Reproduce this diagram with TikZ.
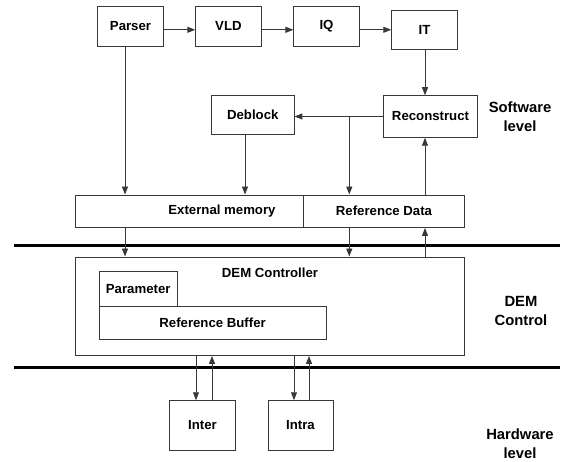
\documentclass[tikz,border=0pt]{standalone}
\usepackage{fontspec}
\setmainfont{Liberation Sans}
\usetikzlibrary{arrows.meta}
\tikzset{
  boxtext/.style={font=\fontsize{13.2}{16}\selectfont\bfseries},
  blk/.style={draw=black!78, line width=0.9pt, inner sep=0pt, boxtext},
  arr/.style={draw=black!78, line width=0.9pt, -{Triangle[length=8pt,width=6pt]}},
  plain/.style={draw=black!78, line width=0.9pt},
  bar/.style={draw=black, line width=2.8pt},
  sidelabel/.style={align=center, font=\fontsize{14.8}{19}\selectfont\bfseries, inner sep=0pt}
}
\begin{document}
\begin{tikzpicture}[x=1pt,y=-1pt]
\useasboundingbox (0,0) rectangle (562,462);
% top row
\node[blk, minimum width=66pt, minimum height=39.3pt] (parser) at (130.5,26.4) {Parser};
\node[blk, minimum width=65.3pt, minimum height=39.3pt] (vld) at (228.4,26.4) {VLD};
\node[blk, minimum width=65.2pt, minimum height=39.3pt] (iq) at (326.5,26.4) {IQ};
\node[blk, minimum width=65.6pt, minimum height=39pt] (it) at (424.5,29.8) {IT};
% second row
\node[blk, minimum width=94.4pt, minimum height=41.6pt] (recon) at (430.5,116.5) {Reconstruct};
\node[blk, minimum width=82.3pt, minimum height=39.3pt] (deblock) at (252.8,114.7) {Deblock};
% memory
\node[blk, minimum width=388.6pt, minimum height=32.5pt] (extmem) at (269.9,211.25) {};
\node[boxtext] (extmemtext) at (222,211.3) {External memory};
\node[blk, minimum width=160.4pt, minimum height=32.5pt] (refdata) at (384,211.25) {Reference Data};
% DEM controller
\node[blk, minimum width=388.6pt, minimum height=98.5pt] (dem) at (269.9,306.25) {};
\node[boxtext] (demtext) at (270,272.7) {DEM Controller};
\node[blk, minimum width=78.3pt, minimum height=35.7pt] (param) at (138.2,288.85) {Parameter};
\node[blk, minimum width=227.2pt, minimum height=32.3pt] (refbuf) at (212.6,322.85) {Reference Buffer};
% hardware
\node[blk, minimum width=66.4pt, minimum height=49.3pt] (inter) at (202.5,425.35) {Inter};
\node[blk, minimum width=65pt, minimum height=49.3pt] (intra) at (300.5,425.35) {Intra};
% level bars
\coordinate (barAl) at (14,245.5);
\coordinate (barAr) at (560,245.5);
\coordinate (barBl) at (14,367.5);
\coordinate (barBr) at (560,367.5);
\draw[bar] (barAl) -- (barAr);
\draw[bar] (barBl) -- (barBr);
% side labels
\node[sidelabel] (sw) at (520,116.5) {Software\\level};
\node[sidelabel] (dc) at (521,311) {DEM\\Control};
\node[sidelabel] (hw) at (520,444) {Hardware\\level};
% x positions
\coordinate (xp) at (125,0);
\coordinate (xd) at (245,0);
\coordinate (xb) at (349.3,0);
\coordinate (xr) at (425,0);
\coordinate (xi1) at (196,0);
\coordinate (xi2) at (212,0);
\coordinate (xt1) at (294,0);
\coordinate (xt2) at (309,0);
% connectors
\draw[arr] (parser.east |- it.west) -- (vld.west |- it.west);
\draw[arr] (vld.east |- it.west) -- (iq.west |- it.west);
\draw[arr] (iq.east |- it.west) -- (it.west);
\draw[arr] (it.south -| xr) -- (recon.north -| xr);
\draw[arr] (recon.west) -- (deblock.east |- recon.west);
\draw[arr] (xb |- recon.west) -- (xb |- refdata.north);
\draw[arr] (xp |- parser.south) -- (xp |- extmem.north);
\draw[arr] (xd |- deblock.south) -- (xd |- extmem.north);
\draw[arr] (xr |- refdata.north) -- (xr |- recon.south);
\draw[arr] (xp |- extmem.south) -- (xp |- dem.north);
\draw[arr] (xb |- refdata.south) -- (xb |- dem.north);
\draw[arr] (xr |- dem.north) -- (xr |- refdata.south);
\draw[arr] (xi1 |- dem.south) -- (xi1 |- inter.north);
\draw[arr] (xi2 |- inter.north) -- (xi2 |- dem.south);
\draw[arr] (xt1 |- dem.south) -- (xt1 |- intra.north);
\draw[arr] (xt2 |- intra.north) -- (xt2 |- dem.south);
\end{tikzpicture}
\end{document}
